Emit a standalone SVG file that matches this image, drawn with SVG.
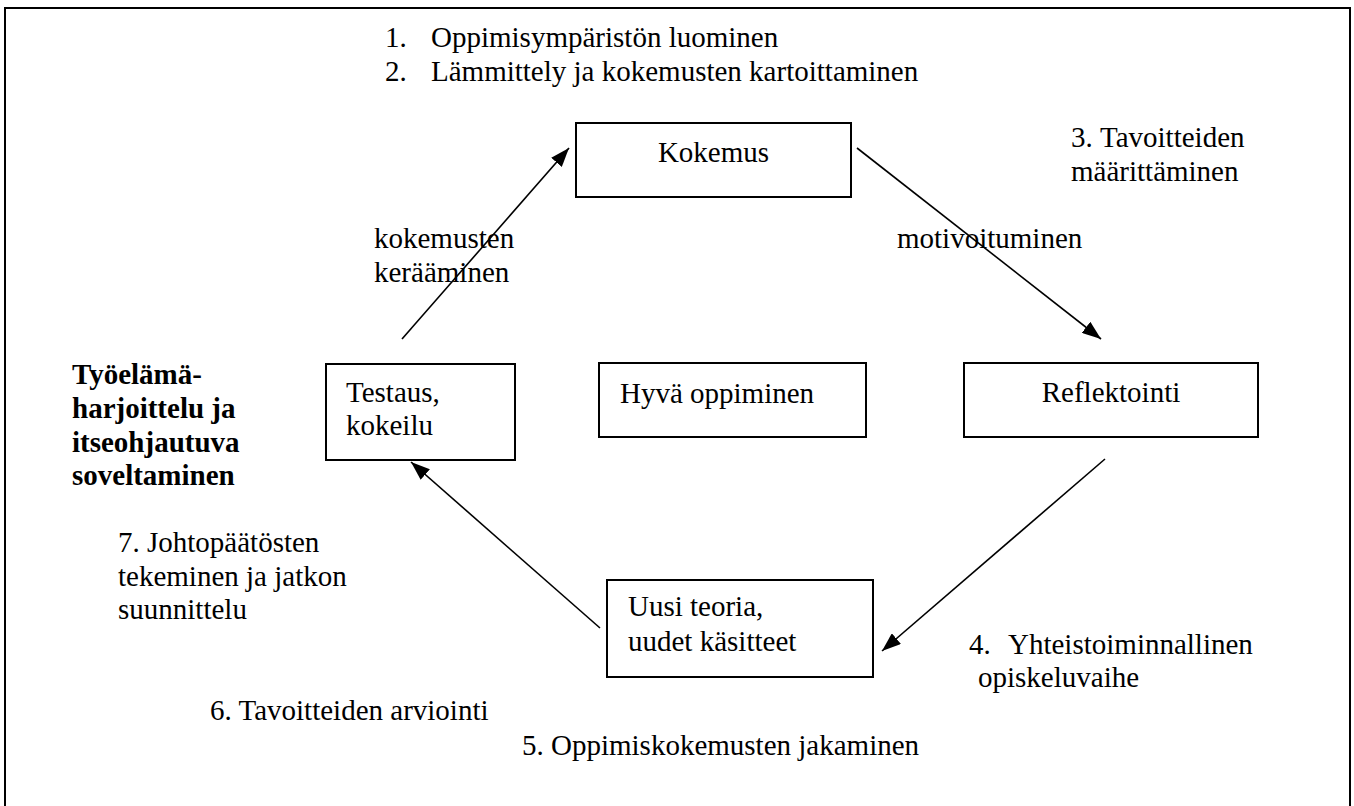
<svg xmlns="http://www.w3.org/2000/svg" width="1354" height="806" viewBox="0 0 1354 806">
  <style>
    text { font-family: "Liberation Serif", "Times New Roman", serif; font-size: 29px; fill: #000; }
    .bold { font-weight: bold; }
    .box { fill: #fff; stroke: #000; stroke-width: 2; }
    .conn { stroke: #000; stroke-width: 1.6; fill: none; marker-end: url(#head); }
  </style>
  <defs>
    <marker id="head" markerUnits="userSpaceOnUse" markerWidth="20" markerHeight="14" refX="19" refY="7" orient="auto">
      <path d="M0,0 L19,7 L0,14 z" fill="#000"/>
    </marker>
  </defs>

  <!-- outer frame -->
  <rect x="5" y="8" width="1345" height="812" fill="#fff" stroke="#000" stroke-width="2"/>

  <!-- phase list -->
  <g id="phases-top">
    <text x="385" y="47">1.</text><text x="431" y="47">Oppimisympäristön luominen</text>
    <text x="385" y="81">2.</text><text x="431" y="81">Lämmittely ja kokemusten kartoittaminen</text>
  </g>
  <g id="phase-3">
    <text x="1071" y="147">3.<tspan x="1100">Tavoitteiden</tspan></text>
    <text x="1071" y="181">määrittäminen</text>
  </g>
  <g id="phase-4">
    <text x="969" y="654">4.<tspan x="1008">Yhteistoiminnallinen</tspan></text>
    <text x="978" y="687">opiskeluvaihe</text>
  </g>
  <g id="phase-5">
    <text x="522" y="755">5. Oppimiskokemusten jakaminen</text>
  </g>
  <g id="phase-6">
    <text x="210" y="720">6. Tavoitteiden arviointi</text>
  </g>
  <g id="phase-7">
    <text x="118" y="552">7. Johtopäätösten</text>
    <text x="118" y="586">tekeminen ja jatkon</text>
    <text x="118" y="619">suunnittelu</text>
  </g>
  <g id="worklife">
    <text class="bold" x="72" y="384">Työelämä-</text>
    <text class="bold" x="72" y="418">harjoittelu ja</text>
    <text class="bold" x="72" y="452">itseohjautuva</text>
    <text class="bold" x="72" y="485">soveltaminen</text>
  </g>

  <!-- connectors -->
  <g id="connectors">
    <line class="conn" x1="857" y1="148" x2="1101" y2="339"/>
    <line class="conn" x1="1105" y1="459" x2="882" y2="651"/>
    <line class="conn" x1="600" y1="628" x2="411" y2="462"/>
    <line class="conn" x1="402" y1="339" x2="569" y2="148"/>
    <text x="374" y="248">kokemusten</text>
    <text x="374" y="282">kerääminen</text>
    <text x="897" y="248">motivoituminen</text>
  </g>

  <!-- cycle nodes -->
  <g id="node-kokemus">
    <rect class="box" x="576" y="123" width="275" height="74"/>
    <text x="713.5" y="162" text-anchor="middle">Kokemus</text>
  </g>
  <g id="node-reflektointi">
    <rect class="box" x="964" y="363" width="294" height="74"/>
    <text x="1111" y="402" text-anchor="middle">Reflektointi</text>
  </g>
  <g id="node-uusi-teoria">
    <rect class="box" x="607" y="580" width="266" height="97"/>
    <text x="628" y="616">Uusi teoria,</text>
    <text x="628" y="651">uudet käsitteet</text>
  </g>
  <g id="node-testaus">
    <rect class="box" x="326" y="364" width="189" height="96"/>
    <text x="346" y="402">Testaus,</text>
    <text x="346" y="435">kokeilu</text>
  </g>
  <g id="node-hyva-oppiminen">
    <rect class="box" x="599" y="363" width="267" height="74"/>
    <text x="620" y="403">Hyvä oppiminen</text>
  </g>
</svg>
